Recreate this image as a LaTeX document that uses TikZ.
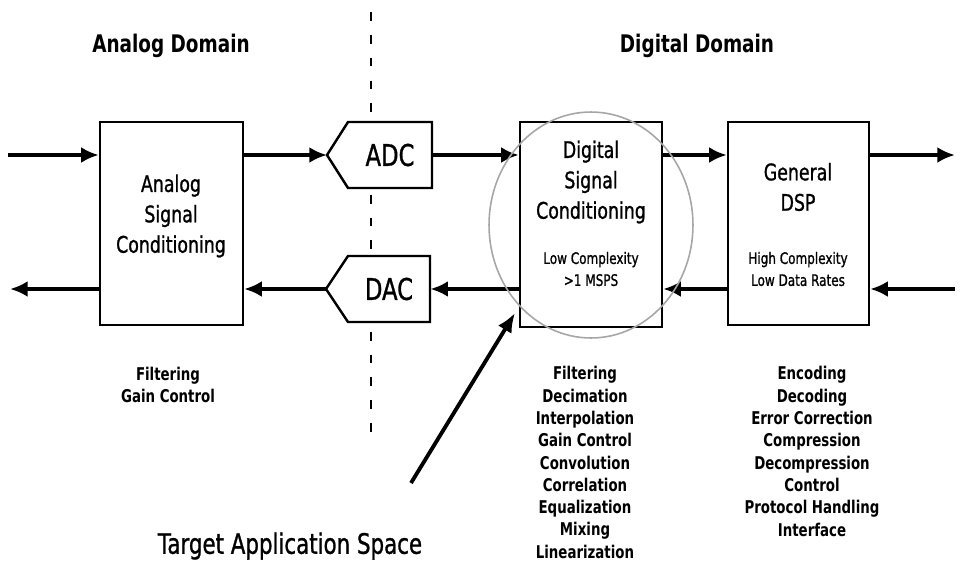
\documentclass[tikz,border=0pt]{standalone}
\usepackage{fontspec}
\setmainfont{DejaVu Sans}[FakeStretch=0.76,UprightFeatures={FakeBold=1}]
\usetikzlibrary{arrows.meta}

\tikzset{
  blk/.style={draw,line width=1.4pt,fill=white,inner sep=0pt},
  conv/.style={inner sep=0pt,font=\fontsize{17}{20}\selectfont},
  sig/.style={line width=2pt,-{Latex[length=10pt,width=9pt]}},
  big/.style={align=center,font=\fontsize{13}{17.3}\selectfont},
  small/.style={align=center,font=\fontsize{9}{12.5}\selectfont},
  lst/.style={align=center,font=\bfseries\fontsize{10}{12.7}\selectfont}
}

\begin{document}
\begin{tikzpicture}[x=0.02cm,y=-0.02cm]
\useasboundingbox (0,0) rectangle (964,565);

% border between the two domains
\draw[line width=1.5pt,dash pattern=on 5pt off 8pt] (371,12) -- (371,445);
\node[font=\bfseries\fontsize{13.8}{16}\selectfont] (anhead) at (171,46) {Analog Domain};
\node[font=\bfseries\fontsize{13.8}{16}\selectfont] (dghead) at (697,46) {Digital Domain};

% blocks
\node[blk,minimum width=2.86cm,minimum height=4.06cm] (an) at (171.5,223.5) {};
\node[blk,minimum width=2.84cm,minimum height=4.1cm] (dsc) at (591,224.5) {};
\node[blk,minimum width=2.82cm,minimum height=4.06cm] (dsp) at (798.5,223.5) {};

% converters
\coordinate (adctip) at (327,155);
\filldraw[line width=1.4pt,fill=white] (348,122) -- (432,122) -- (432,188) -- (348,188) -- (adctip) -- cycle;
\node[conv,minimum width=1.68cm,minimum height=1.32cm] (adc) at (390,155) {ADC};
\coordinate (dactip) at (326,289);
\filldraw[line width=1.4pt,fill=white] (348,256) -- (430,256) -- (430,322) -- (348,322) -- (dactip) -- cycle;
\node[conv,minimum width=1.64cm,minimum height=1.32cm] (dac) at (389,289) {DAC};

% block texts
\node[big] (antxt) at (171,216) {Analog\\Signal\\Conditioning};
\node[big] (dsctxt) at (591,182) {Digital\\Signal\\Conditioning};
\node[small] (dscsub) at (591,269) {Low Complexity\\>1 MSPS};
\node[big] (dsptxt) at (798,187) {General\\DSP};
\node[small] (dspsub) at (798,269) {High Complexity\\Low Data Rates};

% signal flow
\coordinate (inl) at (8,155);
\coordinate (outl) at (10,289);
\coordinate (outr) at (955,155);
\coordinate (inr) at (955,289);
\draw[sig] (inl) -- (an.west |- inl);
\draw[sig] (an.east |- adc) -- (adctip);
\draw[sig] (adc.east) -- (dsc.west |- adc);
\draw[sig] (dsc.east |- adc) -- (dsp.west |- adc);
\draw[sig] (dsp.east |- adc) -- (outr);
\draw[sig] (inr) -- (dsp.east |- inr);
\draw[sig] (dsp.west |- dac) -- (dsc.east |- dac);
\draw[sig] (dsc.west |- dac) -- (dac.east);
\draw[sig] (dactip) -- (an.east |- dac);
\draw[sig] (an.west |- dac) -- (outl);

% target space
\draw[gray!70,line width=0.9pt] (591,225) ellipse [x radius=2.04cm,y radius=2.26cm];
\node[font=\fontsize{16}{19}\selectfont] (tgt) at (290,546) {Target Application Space};
\coordinate (tgtstart) at (411,483);
\coordinate (tgtend) at (515,313);
\draw[line width=2.2pt,-{Latex[length=11pt,width=9pt]}] (tgtstart) -- (tgtend);

% tasks
\node[lst] (antask) at (168,385) {Filtering\\Gain Control};
\node[lst] (dsctask) at (585,462.5) {Filtering\\Decimation\\Interpolation\\Gain Control\\Convolution\\Correlation\\Equalization\\Mixing\\Linearization};
\node[lst] (dsptask) at (812,451.5) {Encoding\\Decoding\\Error Correction\\Compression\\Decompression\\Control\\Protocol Handling\\Interface};
\end{tikzpicture}
\end{document}
